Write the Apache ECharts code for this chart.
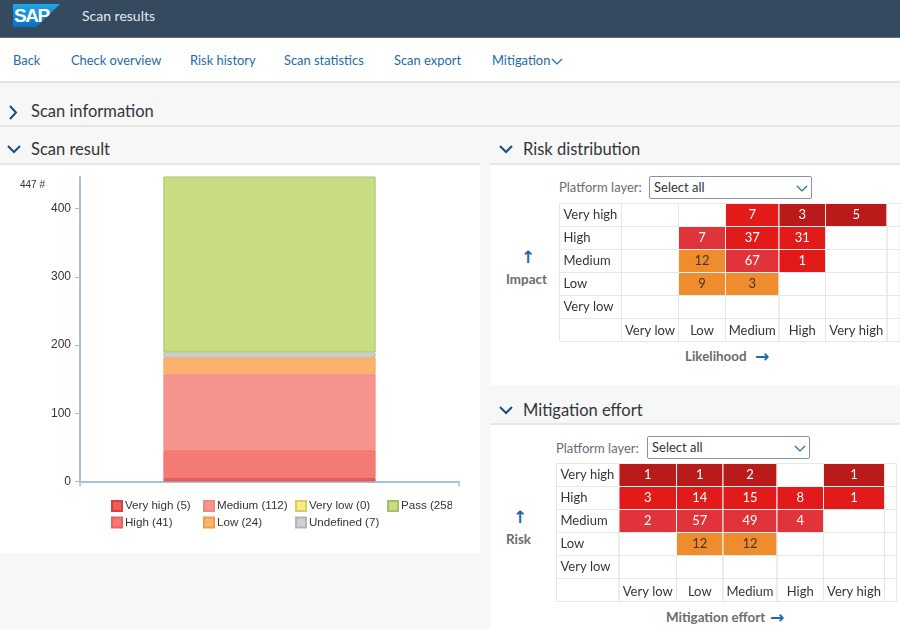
<!DOCTYPE html>
<html>
<head>
<meta charset="utf-8">
<title>Scan results</title>
<script src="https://cdn.jsdelivr.net/npm/echarts@6/dist/echarts.min.js"></script>
<style>
    html, body { margin: 0; padding: 0; }
    body { width: 900px; height: 629px; overflow: hidden; position: relative; background: #f7f7f7; font-family: Lato, "Open Sans", sans-serif; }
    .abs { position: absolute; white-space: nowrap; }
    #shell-bar { left: 0; top: 0; width: 900px; height: 38px; background: #354a5f; border-bottom: 1px solid #5b6f82; box-sizing: border-box; }
    #logo { left: 13px; top: 4px; width: 47px; height: 23px; background: linear-gradient(#1fa8e8, #0a6fc4); clip-path: polygon(0 0, 100% 0, 50% 100%, 0 100%); }
    #logo-text { left: 14px; top: 6px; font: bold 19px/20px "Liberation Sans", sans-serif; color: #fff; letter-spacing: -1.5px; }
    #app-title { left: 82px; top: 7px; font-size: 14px; line-height: 18px; color: #e3e8ec; }
    #nav { left: 0; top: 38px; width: 900px; height: 45px; background: #fff; border-bottom: 2px solid #e4e4e4; box-sizing: border-box; }
    .nav-link { top: 51px; font-size: 12.9px; line-height: 18px; color: #1f6ba5; }
    .section { font-size: 16.5px; line-height: 22px; color: #32363a; }
    .rule { height: 2px; background: #e6e6e6; }
    .panel { background: #fff; }
    .field { font-size: 13px; line-height: 16px; color: #6a6d70; }
    .select { width: 163px; height: 23px; box-sizing: border-box; border: 1px solid #8a949d; border-radius: 2px; background: #fff; font-size: 13px; line-height: 20px; padding-left: 4px; color: #32363a; }
    .axis-title { font-size: 13.4px; font-weight: bold; line-height: 16px; color: #6a6d70; }
    .arrow { font: bold 17px/16px "DejaVu Sans", sans-serif; color: #1f6ba5; }
    svg.abs { overflow: visible; }
    #chart { position: absolute; left: 0; top: 0; width: 900px; height: 629px; }
</style>
</head>
<body>
<div class="abs" id="shell-bar"></div>
<div class="abs" id="logo"></div>
<div class="abs" id="logo-text">SAP</div>
<div class="abs" id="app-title">Scan results</div>

<div class="abs" id="nav"></div>
<div class="abs nav-link" style="left:13px">Back</div>
<div class="abs nav-link" style="left:71px">Check overview</div>
<div class="abs nav-link" style="left:190px">Risk history</div>
<div class="abs nav-link" style="left:284px">Scan statistics</div>
<div class="abs nav-link" style="left:394px">Scan export</div>
<div class="abs nav-link" style="left:492px">Mitigation</div>
<svg class="abs" style="left:551px;top:58px" width="12" height="7"><path d="M1 1 L6 6 L11 1" fill="none" stroke="#1f6ba5" stroke-width="1.2"/></svg>

<svg class="abs" style="left:9px;top:105px" width="9" height="15"><path d="M1 1 L7 7.5 L1 14" fill="none" stroke="#1b4f82" stroke-width="2"/></svg>
<div class="abs section" style="left:31px;top:100px">Scan information</div>
<div class="abs rule" style="left:0;top:125px;width:900px"></div>

<svg class="abs" style="left:7px;top:145px" width="14" height="9"><path d="M1 1 L7 7 L13 1" fill="none" stroke="#1b4f82" stroke-width="2"/></svg>
<div class="abs section" style="left:31px;top:138px">Scan result</div>
<svg class="abs" style="left:499px;top:145px" width="14" height="9"><path d="M1 1 L7 7 L13 1" fill="none" stroke="#1b4f82" stroke-width="2"/></svg>
<div class="abs section" style="left:523px;top:138px">Risk distribution</div>

<div class="abs panel" style="left:0;top:165px;width:480px;height:388px"></div>
<div class="abs panel" style="left:490px;top:165px;width:410px;height:220px"></div>
<div class="abs rule" style="left:490px;top:163px;width:410px"></div>
<div class="abs rule" style="left:0;top:163px;width:480px"></div>

<svg class="abs" style="left:499px;top:406px" width="14" height="9"><path d="M1 1 L7 7 L13 1" fill="none" stroke="#1b4f82" stroke-width="2"/></svg>
<div class="abs section" style="left:523px;top:399px">Mitigation effort</div>
<div class="abs rule" style="left:490px;top:423px;width:410px"></div>
<div class="abs panel" style="left:490px;top:425px;width:410px;height:204px"></div>

<div class="abs field" style="left:559px;top:179px">Platform layer:</div>
<div class="abs select" style="left:649px;top:176px">Select all</div>
<svg class="abs" style="left:796px;top:185px" width="12" height="7"><path d="M1 1 L6 6 L11 1" fill="none" stroke="#1f6ba5" stroke-width="1.2"/></svg>
<div class="abs arrow" style="left:521px;top:249px">↑</div>
<div class="abs axis-title" style="left:506px;top:271px">Impact</div>
<div class="abs axis-title" style="left:685px;top:348px">Likelihood</div>
<div class="abs arrow" style="left:755px;top:348px">→</div>

<div class="abs field" style="left:556px;top:440px">Platform layer:</div>
<div class="abs select" style="left:647px;top:436px">Select all</div>
<svg class="abs" style="left:794px;top:445px" width="12" height="7"><path d="M1 1 L6 6 L11 1" fill="none" stroke="#1f6ba5" stroke-width="1.2"/></svg>
<div class="abs arrow" style="left:513px;top:509px">↑</div>
<div class="abs axis-title" style="left:506px;top:531px">Risk</div>
<div class="abs axis-title" style="left:666px;top:609px">Mitigation effort</div>
<div class="abs arrow" style="left:770px;top:609px">→</div>

<div id="chart"></div>

<script>
    // 扫描结果
    var resultNames = ['Very high', 'High', 'Medium', 'Low', 'Very low', 'Undefined', 'Pass'];
    var resultValues = [5, 41, 112, 24, 0, 7, 258];
    var resultTotal = 447;
    var resultTicks = [0, 100, 200, 300, 400];

    // 风险矩阵
    var matrixRows = ['Very high', 'High', 'Medium', 'Low', 'Very low', ''];
    var matrixColumns = ['Very low', 'Low', 'Medium', 'High', 'Very high'];

    var riskValues = [
        [null, null, 7, 3, 5],
        [null, 7, 37, 31, null],
        [null, 12, 67, 1, null],
        [null, 9, 3, null, null],
        [null, null, null, null, null]
    ];
    var riskLevels = [
        ['', '', 'red', 'dark', 'dark'],
        ['', 'soft', 'red', 'red', ''],
        ['', 'orange', 'soft', 'red', ''],
        ['', 'orange', 'orange', '', ''],
        ['', '', '', '', '']
    ];

    var effortValues = [
        [1, 1, 2, null, 1],
        [3, 14, 15, 8, 1],
        [2, 57, 49, 4, null],
        [null, 12, 12, null, null],
        [null, null, null, null, null]
    ];
    var effortLevels = [
        ['dark', 'dark', 'dark', '', 'dark'],
        ['red', 'red', 'red', 'red', 'red'],
        ['soft', 'soft', 'soft', 'soft', ''],
        ['', 'orange', 'orange', '', ''],
        ['', '', '', '', '']
    ];

    // 样式
    var resultFill = ['#ea5f5c', '#f37b73', '#f4948d', '#fbb36e', '#f5ec84', '#cfcfcf', '#c8dc82'];
    var resultBorder = ['#d9413f', '#e8625b', '#ee8a84', '#ee9c50', '#d8cf5c', '#b4b4b4', '#a6bf62'];
    var barEdge = ['#e0524f', '#f2756d', '#f4908a', '#f3a75f', '#f5ec84', '#bdbdbd', '#a9c26a'];
    var levelColors = {dark: '#b91b1b', red: '#e31a1a', soft: '#e1333a', orange: '#ef8c2e'};
    var riskColumnWidths = [62, 57, 47, 53.5, 46.5, 61.5, 13];
    var effortColumnWidths = [62.5, 57.5, 46.5, 54, 46.5, 61, 12];

    var chart = echarts.init(document.getElementById('chart'), null, {renderer: 'canvas'});

    function sum(list) {
        var total = 0;
        for (var i = 0; i < list.length; i++) {
            total += list[i];
        }
        return total;
    }

    function legendName(i) {
        return resultNames[i] + ' (' + resultValues[i] + ')';
    }

    // 表格单元,包含标签列和空白行
    function buildCells(values, levels, widths) {
        var cells = [];
        for (var r = 0; r < matrixRows.length; r++) {
            var start = 0;
            for (var c = 0; c < widths.length; c++) {
                var inside = r < values.length && c > 0 && c <= matrixColumns.length;
                cells.push([
                    start,
                    start + widths[c],
                    r,
                    inside ? values[r][c - 1] : null,
                    inside ? levels[r][c - 1] : ''
                ]);
                start += widths[c];
            }
        }
        return cells;
    }

    function cellRenderer(cells) {
        return function (params, api) {
            var cell = cells[params.dataIndex];
            var left = api.coord([cell[0], cell[2]]);
            var right = api.coord([cell[1], cell[2]]);
            var height = api.size([0, 1])[1];
            var level = cell[4];
            var children = [{
                type: 'rect',
                shape: {x: left[0], y: left[1] - height / 2, width: right[0] - left[0], height: height},
                style: {
                    fill: level ? levelColors[level] : 'transparent',
                    stroke: level ? '#f4f4f4' : '#e6e6e6',
                    lineWidth: 1
                }
            }];
            if (cell[3] !== null) {
                children.push({
                    type: 'text',
                    style: {
                        x: (left[0] + right[0]) / 2,
                        y: left[1],
                        text: String(cell[3]),
                        align: 'center',
                        verticalAlign: 'middle',
                        font: '13px Lato, "Open Sans", sans-serif',
                        fill: level === 'orange' ? '#4d3418' : '#ffffff'
                    }
                });
            }
            return {type: 'group', children: children};
        };
    }

    function columnCenters(widths) {
        var centers = [], start = widths[0];
        for (var i = 0; i < matrixColumns.length; i++) {
            centers.push(start + widths[i + 1] / 2);
            start += widths[i + 1];
        }
        return centers;
    }

    function matrixAxes(widths, labelMargin) {
        var centers = columnCenters(widths);
        return {
            x: {
                type: 'value',
                min: 0,
                max: sum(widths),
                axisLine: {show: false},
                axisTick: {show: false},
                splitLine: {show: false},
                axisLabel: {
                    inside: true,
                    margin: labelMargin,
                    customValues: centers,
                    color: '#32363a',
                    fontSize: 13,
                    fontFamily: 'Lato, "Open Sans", sans-serif',
                    formatter: function (value) {
                        return matrixColumns[centers.indexOf(value)];
                    }
                }
            },
            y: {
                type: 'category',
                inverse: true,
                data: matrixRows,
                axisLine: {show: false},
                axisTick: {show: false},
                splitLine: {show: false},
                z: 5,
                axisLabel: {
                    inside: true,
                    margin: 4,
                    color: '#32363a',
                    fontSize: 13,
                    fontFamily: 'Lato, "Open Sans", sans-serif'
                }
            }
        };
    }

    var riskCells = buildCells(riskValues, riskLevels, riskColumnWidths);
    var effortCells = buildCells(effortValues, effortLevels, effortColumnWidths);
    var riskAxes = matrixAxes(riskColumnWidths, 4);
    var effortAxes = matrixAxes(effortColumnWidths, 3);

    var axisColor = '#a9c1d8';

    var xAxes = [{
        type: 'category',
        data: ['Scan result'],
        axisLine: {lineStyle: {color: axisColor, width: 2}},
        axisTick: {show: true, length: 5, lineStyle: {color: axisColor, width: 1.5}},
        axisLabel: {show: false}
    }];
    riskAxes.x.gridIndex = 1;
    effortAxes.x.gridIndex = 2;
    xAxes.push(riskAxes.x, effortAxes.x);

    var yAxes = [{
        type: 'value',
        min: 0,
        max: resultTotal,
        axisLine: {show: true, lineStyle: {color: axisColor, width: 2}},
        axisTick: {show: true, length: 5, customValues: resultTicks, lineStyle: {color: axisColor}},
        splitLine: {show: false},
        axisLabel: {
            customValues: resultTicks,
            margin: 9,
            color: '#333333',
            fontSize: 12,
            fontFamily: '"Liberation Sans", Arial, sans-serif'
        }
    }];
    riskAxes.y.gridIndex = 1;
    effortAxes.y.gridIndex = 2;
    yAxes.push(riskAxes.y, effortAxes.y);

    var series = [];
    for (var i = 0; i < resultNames.length; i++) {
        series.push({
            name: legendName(i),
            type: 'bar',
            stack: 'total',
            barWidth: '56%',
            itemStyle: {color: resultFill[i], borderColor: resultBorder[i], borderWidth: 1},
            data: [{
                value: resultValues[i],
                itemStyle: {borderColor: barEdge[i], borderWidth: resultValues[i] === 0 ? 0 : 1}
            }]
        });
    }
    series.push({
        type: 'custom',
        xAxisIndex: 1,
        yAxisIndex: 1,
        renderItem: cellRenderer(riskCells),
        data: riskCells,
        clip: false,
        encode: {x: [0, 1], y: 2}
    });
    series.push({
        type: 'custom',
        xAxisIndex: 2,
        yAxisIndex: 2,
        renderItem: cellRenderer(effortCells),
        data: effortCells,
        clip: false,
        encode: {x: [0, 1], y: 2}
    });

    function legendColumn(left, indexes) {
        var names = [];
        for (var i = 0; i < indexes.length; i++) {
            names.push(legendName(indexes[i]));
        }
        return {
            left: left,
            top: 500,
            orient: 'vertical',
            padding: 0,
            itemWidth: 10,
            itemHeight: 10,
            itemGap: 4.5,
            icon: 'rect',
            selectedMode: false,
            data: names,
            textStyle: {
                color: '#333333',
                fontSize: 11.6,
                padding: [0, 0, 0, -2],
                fontFamily: '"Liberation Sans", Arial, sans-serif'
            }
        };
    }

    chart.setOption({
        animation: false,
        backgroundColor: 'transparent',
        grid: [
            {left: 80, top: 176.5, width: 379, height: 305},
            {left: 559.5, top: 203.5, width: 341, height: 138},
            {left: 556.5, top: 463.5, width: 340, height: 138}
        ],
        xAxis: xAxes,
        yAxis: yAxes,
        legend: [
            legendColumn(111, [0, 1]),
            legendColumn(203, [2, 3]),
            legendColumn(295, [4, 5]),
            legendColumn(387, [6])
        ],
        series: series,
        graphic: [
            {
                type: 'text',
                left: 20,
                top: 180,
                style: {text: resultTotal + ' #', fill: '#333333', font: '10px "Liberation Sans", Arial, sans-serif'}
            },
            {
                // 图例被容器裁掉的右括号
                type: 'rect',
                z: 100,
                shape: {x: 452, y: 498, width: 12, height: 16},
                style: {fill: '#ffffff'}
            }
        ]
    });
</script>
</body>
</html>
